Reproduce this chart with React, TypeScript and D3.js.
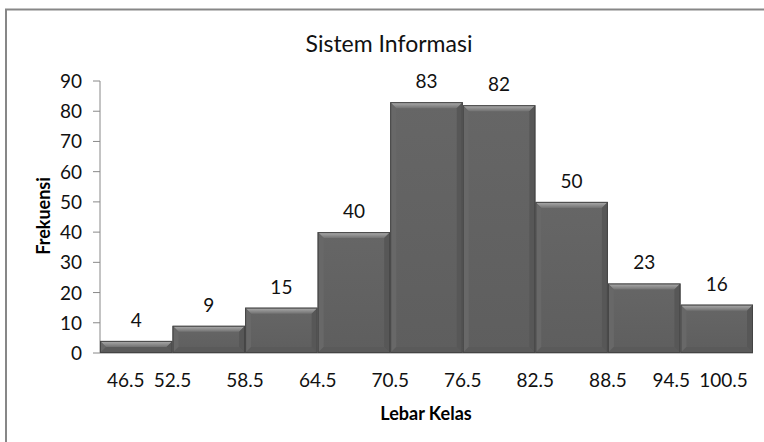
import React from "react";
import * as d3 from "d3";

const title = "Sistem Informasi";
const xTitle = "Lebar Kelas";
const yTitle = "Frekuensi";
const boundaries = ["46.5", "52.5", "58.5", "64.5", "70.5", "76.5", "82.5", "88.5", "94.5", "100.5"];
const frequencies = [4, 9, 15, 40, 83, 82, 50, 23, 16];
const yTicks = [0, 10, 20, 30, 40, 50, 60, 70, 80, 90];

const W = 764;
const H = 442;
const plot = { left: 100, right: 753, top: 81, bottom: 353 };
const FONT = "Lato, 'Open Sans', sans-serif";
const TICK_FS = 19;

function textWidth(s: string, fs: number) {
  let w = 0;
  for (const c of s) w += c === "." ? 0.25 : 0.58;
  return w * fs;
}

export default function App() {
  const x = d3
    .scaleLinear()
    .domain([0, frequencies.length])
    .range([plot.left, plot.right]);
  const y = d3.scaleLinear().domain([0, 90]).range([plot.bottom, plot.top]);
  const b = 6;

  // x label layout: centred on class boundaries, kept inside the plot, nudged apart
  const gap = 9;
  const widths = boundaries.map((s) => textWidth(s, TICK_FS));
  const centers = boundaries.map((_, i) => x(i));
  centers[0] = Math.max(centers[0], plot.left + 7 + widths[0] / 2);
  const n = boundaries.length;
  centers[n - 1] = Math.min(centers[n - 1], plot.right - 5 - widths[n - 1] / 2);
  for (let i = n - 2; i >= 0; i--) {
    const maxC = centers[i + 1] - widths[i + 1] / 2 - gap - widths[i] / 2;
    if (centers[i] > maxC) centers[i] = maxC;
  }

  return (
    <svg
      width={W}
      height={H}
      style={{ position: "absolute", left: 0, top: 0, background: "#fff" }}
    >
      <defs>
        <linearGradient id="topBevel" x1="0" y1="0" x2="0" y2="1">
          <stop offset="0" stopColor="#b0b0b0" />
          <stop offset="1" stopColor="#727272" />
        </linearGradient>
        <linearGradient id="body" x1="0" y1="0" x2="0" y2="1">
          <stop offset="0" stopColor="#666" />
          <stop offset="1" stopColor="#5e5e5e" />
        </linearGradient>
      </defs>
      <rect x={6} y={9.5} width={800} height={480} fill="#fff" stroke="#878787" strokeWidth={2} />
      <text x={389} y={52} textAnchor="middle" fontFamily={FONT} fontSize={23} fill="#111">
        {title}
      </text>

      {/* y axis */}
      <line x1={plot.left} x2={plot.left} y1={y(90)} y2={y(0)} stroke="#888" strokeWidth={1} />
      {yTicks.map((t) => (
        <g key={t}>
          <line x1={plot.left - 7} x2={plot.left} y1={y(t)} y2={y(t)} stroke="#888" strokeWidth={1} />
          <text
            x={82}
            y={y(t) + 7}
            textAnchor="end"
            fontFamily={FONT}
            fontSize={TICK_FS}
            fill="#111"
          >
            {t}
          </text>
        </g>
      ))}
      <line x1={plot.left} x2={plot.right} y1={y(0)} y2={y(0)} stroke="#888" strokeWidth={1} />

      {/* bars */}
      {frequencies.map((v, i) => {
        const x0 = x(i);
        const x1 = x(i + 1);
        const top = y(v);
        const bot = y(0);
        const bb = Math.min(b, (bot - top) / 2);
        return (
          <g key={i}>
            <rect x={x0} y={top} width={x1 - x0} height={bot - top} fill="url(#body)" />
            <polygon
              points={`${x0},${top} ${x1},${top} ${x1 - bb},${top + bb} ${x0 + bb},${top + bb}`}
              fill="url(#topBevel)"
            />
            <polygon
              points={`${x0},${top} ${x0 + bb},${top + bb} ${x0 + bb},${bot - bb} ${x0},${bot}`}
              fill="#686868"
            />
            <polygon
              points={`${x1},${top} ${x1 - bb},${top + bb} ${x1 - bb},${bot - bb} ${x1},${bot}`}
              fill="#575757"
            />
            <polygon
              points={`${x0},${bot} ${x0 + bb},${bot - bb} ${x1 - bb},${bot - bb} ${x1},${bot}`}
              fill="#5a5a5a"
            />
            <rect
              x={x0 + 0.5}
              y={top + 0.5}
              width={x1 - x0 - 1}
              height={bot - top - 1}
              fill="none"
              stroke="#444"
              strokeWidth={1}
            />
            <text
              x={(x0 + x1) / 2}
              y={top - 14}
              textAnchor="middle"
              fontFamily={FONT}
              fontSize={TICK_FS}
              fill="#111"
            >
              {v}
            </text>
          </g>
        );
      })}

      {/* x labels at class boundaries */}
      {boundaries.map((lab, i) => (
        <text
          key={lab}
          x={centers[i]}
          y={387}
          textAnchor="middle"
          fontFamily={FONT}
          fontSize={TICK_FS}
          fill="#111"
        >
          {lab}
        </text>
      ))}

      <text x={426} y={420} textAnchor="middle" fontFamily={FONT} fontWeight="bold" fontSize={18} fill="#000">
        {xTitle}
      </text>
      <text
        transform={`translate(50,216) rotate(-90)`}
        textAnchor="middle"
        fontFamily={FONT}
        fontWeight="bold"
        fontSize={18}
        fill="#000"
      >
        {yTitle}
      </text>
    </svg>
  );
}
